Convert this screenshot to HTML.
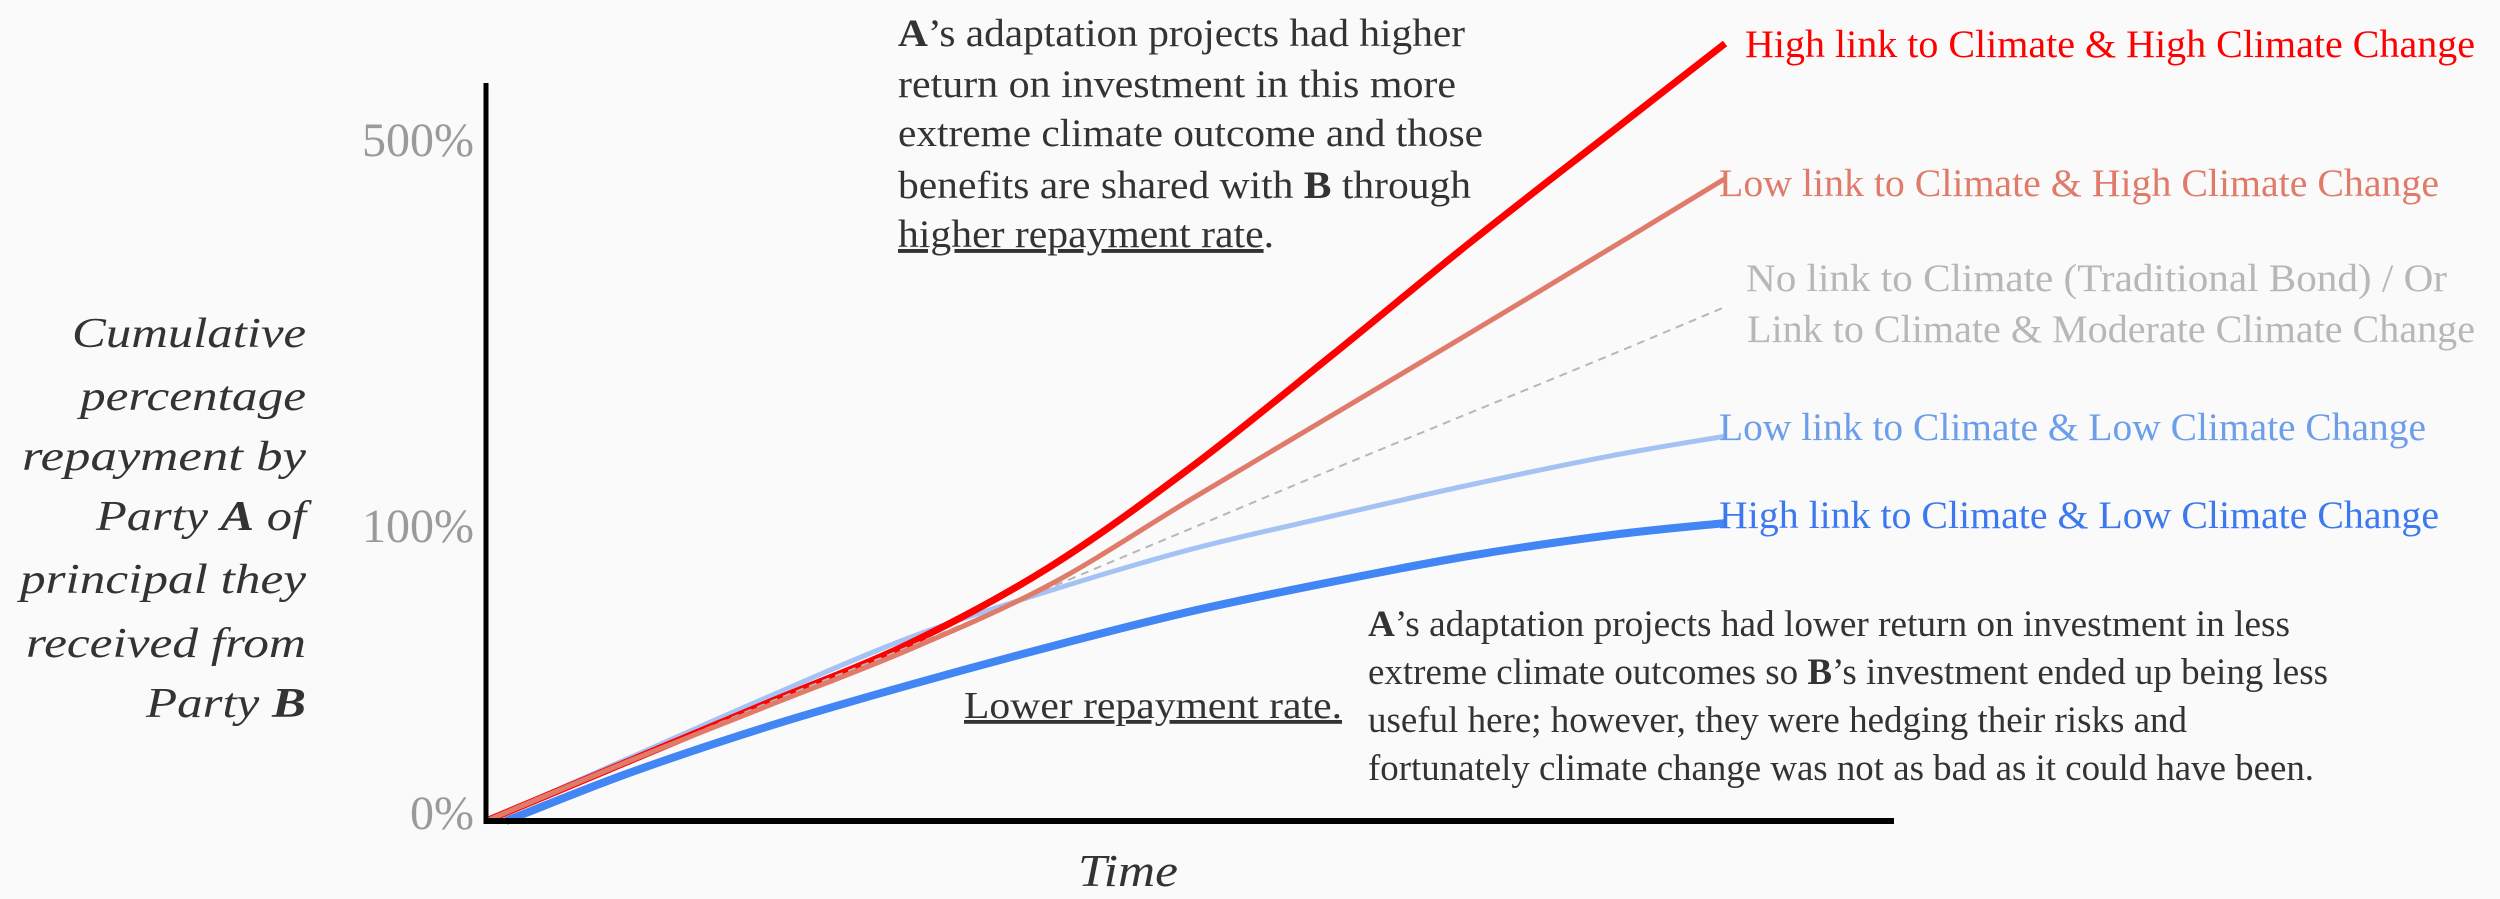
<!DOCTYPE html>
<html><head><meta charset="utf-8"><style>
html,body{margin:0;padding:0;background:#fafafa;}
svg{display:block;font-family:"Liberation Serif",serif;}
</style></head><body>
<svg id="chart" width="2500" height="899" viewBox="0 0 2500 899" xmlns="http://www.w3.org/2000/svg">
<rect x="0" y="0" width="2500" height="899" fill="#fafafa"/>
<g id="series"></g>
<line x1="486" y1="83" x2="486" y2="824" stroke="#000" stroke-width="5"/>
<line x1="484" y1="821" x2="1894" y2="821" stroke="#000" stroke-width="6"/>
<g id="ticks" fill="#9a9a9a" font-size="48"></g>
<g fill="#333" font-size="42" font-style="italic" text-anchor="end">
<text x="306" y="347" textLength="234" lengthAdjust="spacingAndGlyphs">Cumulative</text>
<text x="306" y="410" textLength="226" lengthAdjust="spacingAndGlyphs">percentage</text>
<text x="306" y="470" textLength="284" lengthAdjust="spacingAndGlyphs">repayment by</text>
<text x="306" y="530" textLength="210" lengthAdjust="spacingAndGlyphs">Party <tspan font-weight="bold">A</tspan> of</text>
<text x="306" y="593" textLength="286" lengthAdjust="spacingAndGlyphs">principal they</text>
<text x="306" y="657" textLength="280" lengthAdjust="spacingAndGlyphs">received from</text>
<text x="306" y="717" textLength="160" lengthAdjust="spacingAndGlyphs">Party <tspan font-weight="bold">B</tspan></text>
</g>
<text x="1078" y="886" font-size="46" font-style="italic" fill="#333" textLength="100" lengthAdjust="spacingAndGlyphs">Time</text>
<g fill="#333" font-size="39">
<text x="898" y="46" textLength="567" lengthAdjust="spacingAndGlyphs"><tspan font-weight="bold">A</tspan>’s adaptation projects had higher</text>
<text x="898" y="97" textLength="558" lengthAdjust="spacingAndGlyphs">return on investment in this more</text>
<text x="898" y="146" textLength="585" lengthAdjust="spacingAndGlyphs">extreme climate outcome and those</text>
<text x="898" y="198" textLength="573" lengthAdjust="spacingAndGlyphs">benefits are shared with <tspan font-weight="bold">B</tspan> through</text>
<text x="898" y="247" textLength="376" lengthAdjust="spacingAndGlyphs"><tspan text-decoration="underline">higher repayment rate</tspan>.</text>
</g>
<g fill="#333" font-size="37">
<text x="1368" y="636" textLength="922" lengthAdjust="spacingAndGlyphs"><tspan font-weight="bold">A</tspan>’s adaptation projects had lower return on investment in less</text>
<text x="1368" y="684" textLength="960" lengthAdjust="spacingAndGlyphs">extreme climate outcomes so <tspan font-weight="bold">B</tspan>’s investment ended up being less</text>
<text x="1368" y="732" textLength="819" lengthAdjust="spacingAndGlyphs">useful here; however, they were hedging their risks and</text>
<text x="1368" y="780" textLength="946" lengthAdjust="spacingAndGlyphs">fortunately climate change was not as bad as it could have been.</text>
</g>
<text x="964" y="718" font-size="38" fill="#333" text-decoration="underline" textLength="378" lengthAdjust="spacingAndGlyphs">Lower repayment rate.</text>
<g font-size="39">
<text x="1745" y="57" fill="#ff0000" textLength="730" lengthAdjust="spacingAndGlyphs">High link to Climate &amp; High Climate Change</text>
<text x="1719" y="196" fill="#e07b6a" textLength="720" lengthAdjust="spacingAndGlyphs">Low link to Climate &amp; High Climate Change</text>
<text x="1746" y="291" fill="#b7b7b7" textLength="701" lengthAdjust="spacingAndGlyphs">No link to Climate (Traditional Bond) / Or</text>
<text x="1747" y="342" fill="#b7b7b7" textLength="728" lengthAdjust="spacingAndGlyphs">Link to Climate &amp; Moderate Climate Change</text>
<text x="1719" y="440" fill="#6d9eeb" textLength="707" lengthAdjust="spacingAndGlyphs">Low link to Climate &amp; Low Climate Change</text>
<text x="1719" y="528" fill="#3c78f0" textLength="720" lengthAdjust="spacingAndGlyphs">High link to Climate &amp; Low Climate Change</text>
</g>
</svg>
<script>
const times = [0, 1, 2, 3, 4, 5, 6, 7, 8, 8.8];
const highLinkHighChange = [0, 20, 40, 60, 86, 160, 276, 395, 509, 600];
const lowLinkHighChange = [0, 20, 39, 58, 80, 127, 214, 301, 389, 460];
const noLink = [0, 20, 40, 59, 79, 99, 158, 218, 278, 327];
const lowLinkLowChange = [0, 21, 42, 62, 78, 92, 110, 143, 173, 193];
const highLinkLowChange = [0, 16, 32, 46, 59, 71, 81, 90, 97, 103];
const tickValues = [0, 100, 500];
const tickLabels = ["0%", "100%", "500%"];

const NS = "http://www.w3.org/2000/svg";
function xScale(t){ return 486 + t * 140.8; }
function yScale(v){
  if (v <= 100) return 821 - v / 100 * 295;
  return 526 - (v - 100) / 400 * 386;
}
function pathFor(vals, xoff){
  const pts = times.map((t,i)=>[xScale(t) + (i===0?xoff:0), yScale(vals[i])]);
  let d = "M" + pts[0][0] + "," + pts[0][1];
  for (let i=0;i<pts.length-1;i++){
    const p0 = pts[Math.max(0,i-1)], p1 = pts[i], p2 = pts[i+1], p3 = pts[Math.min(pts.length-1,i+2)];
    const c1x = p1[0] + (p2[0]-p0[0])/6, c1y = p1[1] + (p2[1]-p0[1])/6;
    const c2x = p2[0] - (p3[0]-p1[0])/6, c2y = p2[1] - (p3[1]-p1[1])/6;
    d += " C" + c1x + "," + c1y + " " + c2x + "," + c2y + " " + p2[0] + "," + p2[1];
  }
  return d;
}
const g = document.getElementById("series");
function addLine(vals, color, w, name, dash, xoff){
  const p = document.createElementNS(NS, "path");
  p.setAttribute("d", pathFor(vals, xoff||0));
  p.setAttribute("fill", "none");
  p.setAttribute("stroke", color);
  p.setAttribute("stroke-width", w);
  if (dash) p.setAttribute("stroke-dasharray", dash);
  
  
  g.appendChild(p);
}
addLine(highLinkLowChange, "#4285f4", 8, "line-high-link-low-change", null, 20);
addLine(lowLinkLowChange, "#a4c2f4", 5, "line-low-link-low-change");
addLine(highLinkHighChange, "#ff0000", 7, "line-high-link-high-change");
addLine(noLink, "#b7b7b7", 2, "line-no-link", "8,6");
addLine(lowLinkHighChange, "#e07b6a", 5, "line-low-link-high-change");

const tg = document.getElementById("ticks");
tickValues.forEach((v,i)=>{
  const t = document.createElementNS(NS, "text");
  t.setAttribute("x", 474);
  t.setAttribute("y", yScale(v) + (v===0 ? 8 : 16));
  t.setAttribute("text-anchor", "end");
  t.textContent = tickLabels[i];
  
  
  tg.appendChild(t);
});
</script>
</body></html>
